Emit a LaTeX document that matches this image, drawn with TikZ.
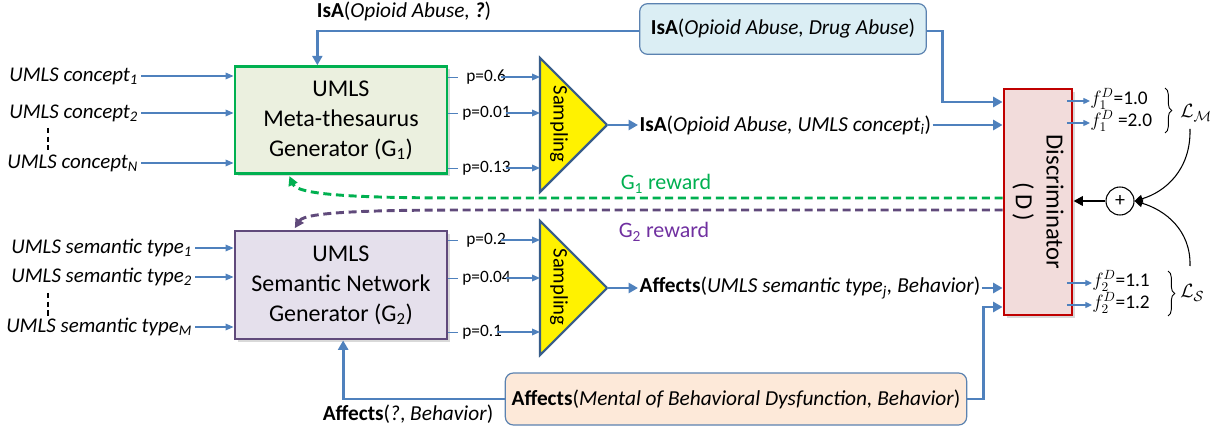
\documentclass[tikz,border=0pt]{standalone}
\usepackage{fontspec}
\setmainfont{Carlito}
\usetikzlibrary{arrows.meta,calc,decorations.pathreplacing,shadows}
\definecolor{arrowblue}{HTML}{4F81BD}
\definecolor{gone}{HTML}{00B050}
\definecolor{gonefill}{HTML}{EBF0DF}
\definecolor{gtwo}{HTML}{604A7B}
\definecolor{gtwofill}{HTML}{E5E0EC}
\definecolor{gtwotext}{HTML}{7030A0}
\definecolor{dred}{HTML}{C00000}
\definecolor{dfill}{HTML}{F2DCDB}
\definecolor{tribord}{HTML}{385D8A}
\definecolor{topfill}{HTML}{DBEEF4}
\definecolor{botfill}{HTML}{FDE9D9}
\definecolor{boxbord}{HTML}{5B82B0}
\begin{document}
\begin{tikzpicture}[x=0.75pt,y=-0.75pt,
  inlab/.style={font=\fontsize{15.7}{18}\selectfont\itshape, inner sep=2pt, text height=11pt, text depth=3pt},
  plab/.style={font=\fontsize{13}{15}\selectfont, inner sep=0pt, anchor=west},
  genbox/.style={font=\fontsize{18}{22.5}\selectfont, align=center, line width=2.2pt,
     minimum width=159pt, minimum height=80pt, inner sep=0pt,
     drop shadow={opacity=0.3, shadow xshift=2pt, shadow yshift=-2pt}},
  relbox/.style={rounded corners=6pt, draw=boxbord, line width=0.9pt, inner sep=0pt,
     font=\fontsize{16}{18}\selectfont},
  rel/.style={font=\fontsize{16}{18}\selectfont, inner sep=1pt},
  thinarrow/.style={draw=arrowblue, line width=0.9pt, -{Triangle[length=6pt,width=5pt]}},
  bigarrow/.style={draw=arrowblue, line width=2.2pt, -{Triangle[length=7pt,width=7.5pt]}},
  tick/.style={draw=arrowblue, line width=0.7pt},
  tri/.style={draw=tribord, fill=yellow, line width=1.6pt, line join=miter},
  samp/.style={font=\fontsize{15.5}{18}\selectfont, rotate=-90, inner sep=0pt},
  reward/.style={line width=2.2pt, dash pattern=on 6pt off 3.5pt, -{Triangle[length=7pt,width=7pt]}},
  flab/.style={font=\fontsize{14.5}{16}\selectfont, anchor=west, inner sep=0pt, text height=7pt, text depth=2pt},
]
\useasboundingbox (0,0) rectangle (1212,434);

% generators
\node[genbox, draw=gone, fill=gonefill] (g1) at (341,120)
  {UMLS\\Meta-thesaurus\\Generator (G\textsubscript{1})};
\node[genbox, draw=gtwo, fill=gtwofill, minimum height=81pt] (g2) at (341,285)
  {UMLS\\Semantic Network\\Generator (G\textsubscript{2})};

% discriminator
\node[draw=dred, fill=dfill, line width=2.2pt, minimum width=51pt, minimum height=169.5pt,
  inner sep=0pt, drop shadow={opacity=0.3, shadow xshift=2pt, shadow yshift=-2pt}] (d) at (1038,202) {};
\node[rotate=-90, align=center, font=\fontsize{18.5}{23}\selectfont] (dl) at (d.center)
  {Discriminator\\(\,D\,)};

% input labels G1
\node[inlab, anchor=east] (c1) at (141,76) {UMLS concept\textsubscript{1}};
\node[inlab, anchor=east] (c2) at (141,113) {UMLS concept\textsubscript{2}};
\node[inlab, anchor=east] (cn) at (141,163) {UMLS concept\textsubscript{N}};
\foreach \n in {c1,c2,cn} \draw[thinarrow] (\n.east) -- (\n.east -| g1.west);
\draw[line width=1.6pt, dash pattern=on 4pt off 2.5pt] (48,128) -- (48,150);

% input labels G2
\node[inlab, anchor=east] (s1) at (195,248) {UMLS semantic type\textsubscript{1}};
\node[inlab, anchor=east] (s2) at (195,277) {UMLS semantic type\textsubscript{2}};
\node[inlab, anchor=east] (sm) at (195,327) {UMLS semantic type\textsubscript{M}};
\foreach \n in {s1,s2,sm} \draw[thinarrow] (\n.east) -- (\n.east -| g2.west);
\draw[line width=1.6pt, dash pattern=on 4pt off 2.5pt] (48,293) -- (48,316);

% sampling triangles
\coordinate (t1top) at (540,58);
\coordinate (t1bot) at (540,192);
\coordinate (t1tip) at (607,125);
\draw[tri] (t1top) -- (t1tip) -- (t1bot) -- cycle;
\node[samp] (sa1) at (559,124) {Sampling};
\coordinate (t2top) at (540,221);
\coordinate (t2bot) at (540,355);
\coordinate (t2tip) at (607,288);
\draw[tri] (t2top) -- (t2tip) -- (t2bot) -- cycle;
\node[samp] (sa2) at (559,287) {Sampling};

% probabilities
\node[plab] (p1) at (466,77) {p=0.6};
\node[plab] (p2) at (462,113) {p=0.01};
\node[plab] (p3) at (462,168) {p=0.13};
\node[plab] (p4) at (466,240) {p=0.2};
\node[plab] (p5) at (462,278) {p=0.04};
\node[plab] (p6) at (462,332) {p=0.1};
\foreach \p in {p1,p2,p3} {
  \draw[tick] (\p.west -| g1.east) -- ++(10,0);
  \draw[thinarrow] ([xshift=-4pt]\p.east) -- (\p.east -| t1top);
}
\foreach \p in {p4,p5,p6} {
  \draw[tick] (\p.west -| g2.east) -- ++(10,0);
  \draw[thinarrow] ([xshift=-4pt]\p.east) -- (\p.east -| t2top);
}

% sampled relations
\node[rel, anchor=west] (isa1) at (638,125)
  {\textbf{IsA}(\textit{Opioid Abuse, UMLS concept\textsubscript{i}})};
\draw[bigarrow] (t1tip) -- (isa1.west);
\draw[bigarrow] (isa1.east) -- (isa1.east -| d.west);
\node[rel, anchor=west] (aff1) at (638,288)
  {\textbf{Affects}(\textit{UMLS semantic type\textsubscript{j}, Behavior})};
\draw[bigarrow] (t2tip) -- (aff1.west);
\draw[bigarrow] (aff1.east) -- (aff1.east -| d.west);

% true relations
\node[relbox, fill=topfill, minimum width=215pt, minimum height=38pt] (tb) at (783,29)
  {\textbf{IsA}(\textit{Opioid Abuse, Drug Abuse})};
\node[relbox, fill=botfill, minimum width=346pt, minimum height=39pt] (bb) at (736,399)
  {\textbf{Affects}(\textit{Mental of Behavioral Dysfunction, Behavior})};
\coordinate (g1in) at ($(g1.north west)!0.39!(g1.north east)$);
\coordinate (g2in) at ($(g2.south west)!0.51!(g2.south east)$);
\draw[bigarrow] ([yshift=-1.5pt]tb.west) -| (g1in);
\draw[bigarrow] ([yshift=-1.5pt]tb.east) -- ++(16,0) |- (d.west |- 0,102);
\draw[bigarrow] (bb.west) -| (g2in);
\draw[bigarrow] (bb.east) -- ++(16,0) |- (d.west |- 0,307);
\node[rel] (q1) at (404,11) {\textbf{IsA}(\textit{Opioid Abuse, \textbf{?}})};
\node[rel] (q2) at (408,414) {\textbf{Affects}(\textit{?}, \textit{Behavior})};

% rewards
\coordinate (g1hit) at ($(g1.south west)!0.26!(g1.south east)$);
\coordinate (g2hit) at ($(g2.north west)!0.285!(g2.north east)$);
\draw[reward, draw=gone] (d.west |- 0,198) -- (470,198)
  .. controls (370,198) and (298,196) .. ([yshift=-1pt]g1hit);
\draw[reward, draw=gtwo] (d.west |- 0,210) -- (470,210)
  .. controls (370,210) and (305,212) .. ([yshift=1pt]g2hit);
\node[rel, text=gone, font=\fontsize{16.5}{18}\selectfont] (r1) at (666,184) {G\textsubscript{1} reward};
\node[rel, text=gtwotext, font=\fontsize{16.5}{18}\selectfont] (r2) at (664,232) {G\textsubscript{2} reward};

% discriminator outputs
\node[flab] (f1) at (1090,101) {$f_1^D$=1.0};
\node[flab] (f2) at (1090,123) {$f_1^D$ =2.0};
\node[flab] (f3) at (1092,283) {$f_2^D$=1.1};
\node[flab] (f4) at (1092,305) {$f_2^D$=1.2};
\foreach \f in {f1,f2,f3,f4}
  \draw[thinarrow, -{Triangle[length=5pt,width=4.5pt]}] ($(d.east |- \f.west)+(-5pt,0)$) -- (\f.west);
\draw[decorate, decoration={brace, amplitude=5pt}, line width=0.7pt] (1165,88) -- (1165,133);
\draw[decorate, decoration={brace, amplitude=5pt}, line width=0.7pt] (1168,271) -- (1168,316);
\node[font=\fontsize{15}{16}\selectfont, anchor=west, inner sep=0pt] (lm) at (1180,113) {$\mathcal{L}_{\mathcal{M}}$};
\node[font=\fontsize{15}{16}\selectfont, anchor=west, inner sep=0pt] (ls) at (1180,293) {$\mathcal{L}_{\mathcal{S}}$};

% sum
\node[circle, draw, line width=0.8pt, minimum size=21pt, inner sep=0pt, fill=white,
  font=\fontsize{15}{16}\selectfont] (plus) at (1120,201) {+};
\draw[line width=1.8pt, -{Triangle[length=7pt,width=7pt]}] (plus.west) -- (plus.west -| d.east);
\draw[line width=0.8pt, -{Triangle[length=6pt,width=6pt]}] (1190,129)
  .. controls (1191,170) and (1165,192) .. (plus.east);
\draw[line width=0.8pt, -{Triangle[length=6pt,width=6pt]}] (1190,266)
  .. controls (1191,230) and (1165,210) .. (plus.east);
\end{tikzpicture}
\end{document}
